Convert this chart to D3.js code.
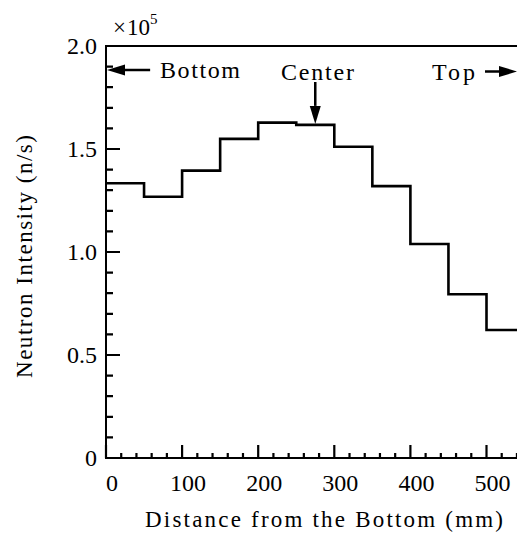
<!DOCTYPE html>
<html>
<head>
<meta charset="utf-8">
<script src="https://cdn.jsdelivr.net/npm/d3@7"></script>
</head>
<body style="margin:0;padding:0;background:#fff;overflow:hidden">
<svg id="chart" width="517" height="539" style="display:block"></svg>
<script>
// ---- data ----
const binStarts = [0, 50, 100, 150, 200, 250, 300, 350, 400, 450, 500];
const binWidth = 50;
const intensity = [1.334, 1.268, 1.395, 1.549, 1.628, 1.617, 1.511, 1.320, 1.039, 0.795, 0.621]; // x 10^5 n/s
const xTickValues = [0, 100, 200, 300, 400, 500];
const xTickLabels = ["0", "100", "200", "300", "400", "500"];
const yTickValues = [0, 0.5, 1.0, 1.5, 2.0];
const yTickLabels = ["0", "0.5", "1.0", "1.5", "2.0"];
const xMinorTicks = [20, 40, 60, 80, 120, 140, 160, 180, 220, 240, 260, 280, 320, 340, 360, 380, 420, 440, 460, 480, 520, 540];
const yMinorTicks = [0.1, 0.2, 0.3, 0.4, 0.6, 0.7, 0.8, 0.9, 1.1, 1.2, 1.3, 1.4, 1.6, 1.7, 1.8, 1.9];
const xTitle = "Distance from the Bottom (mm)";
const yTitle = "Neutron Intensity (n/s)";

const FONT = "'Liberation Serif', 'Times New Roman', serif";

// ---- layout ----
const svg = d3.select("#chart");
const mLeft = 106, mTop = 46, mBottom = 458;
const xMax = 550;
const x = d3.scaleLinear().domain([0, xMax]).range([mLeft, mLeft + 0.761 * xMax]);
const y = d3.scaleLinear().domain([0, 2.0]).range([mBottom, mTop]);

function txt(g) {
  return g.append("text").style("font-family", FONT).attr("fill", "#000");
}

// ---- ticks (inward), drawn as one path ----
let tickD = "";
yMinorTicks.forEach(v => { tickD += `M${x(0)},${y(v)}H${x(0) + 7}`; });
yTickValues.forEach(v => { tickD += `M${x(0)},${y(v)}H${x(0) + 14}`; });
xMinorTicks.forEach(v => { tickD += `M${x(v)},${y(0)}V${y(0) - 5}`; });
xTickValues.forEach(v => { tickD += `M${x(v)},${y(0)}V${y(0) - 13}`; });
svg.append("path").attr("d", tickD).attr("fill", "none")
  .attr("stroke", "#000").attr("stroke-width", 2.2);

// tick labels
svg.append("g").selectAll("text").data(yTickValues).join("text")
  .style("font-family", FONT).style("font-size", "24px").attr("fill", "#000")
  .attr("text-anchor", "end").attr("x", x(0) - 9).attr("y", d => y(d) + 8)
  .text((d, i) => yTickLabels[i]);
svg.append("g").selectAll("text").data(xTickValues).join("text")
  .style("font-family", FONT).style("font-size", "24px").attr("fill", "#000")
  .attr("text-anchor", "middle").attr("x", d => x(d) + 6).attr("y", y(0) + 33)
  .text((d, i) => xTickLabels[i]);

// frame lines (left, bottom, top)
const frame = svg.append("g").attr("stroke", "#000").attr("stroke-width", 2).attr("fill", "none");
frame.append("line").attr("x1", x(0)).attr("x2", x(0)).attr("y1", y(2.0) - 1).attr("y2", y(0) + 1);
frame.append("line").attr("x1", x(0) - 1).attr("x2", x(xMax)).attr("y1", y(0)).attr("y2", y(0));
frame.append("line").attr("x1", x(0) - 1).attr("x2", x(xMax)).attr("y1", y(2.0)).attr("y2", y(2.0));

// ---- step line ----
const stepPts = [];
binStarts.forEach((s, i) => {
  stepPts.push([s, intensity[i]]);
  stepPts.push([s + binWidth, intensity[i]]);
});
const line = d3.line().x(d => x(d[0])).y(d => y(d[1]));
svg.append("path").datum(stepPts).attr("d", line)
  .attr("fill", "none").attr("stroke", "#000").attr("stroke-width", 2.6)
  .attr("stroke-linejoin", "miter");

// ---- annotations ----
function arrow(x1, y1, x2, y2) {
  const ang = Math.atan2(y2 - y1, x2 - x1);
  const L = 18, W = 5.5;
  const bx = x2 - L * Math.cos(ang), by = y2 - L * Math.sin(ang);
  svg.append("line").attr("x1", x1).attr("y1", y1).attr("x2", bx).attr("y2", by)
    .attr("stroke", "#000").attr("stroke-width", 2.5);
  const px = -Math.sin(ang) * W, py = Math.cos(ang) * W;
  svg.append("path")
    .attr("d", `M${x2},${y2}L${bx + px},${by + py}L${bx - px},${by - py}Z`)
    .attr("fill", "#000");
}
arrow(x(58), 70, x(0) + 1, 70);
txt(svg).attr("x", 160).attr("y", 78).style("font-size", "24px")
  .attr("textLength", 80).attr("lengthAdjust", "spacing").text("Bottom");

txt(svg).attr("x", 281).attr("y", 80).style("font-size", "24px")
  .attr("textLength", 73).attr("lengthAdjust", "spacing").text("Center");
arrow(x(275), 82, x(275), y(1.617) - 1);

txt(svg).attr("x", 432).attr("y", 80).style("font-size", "24px")
  .attr("textLength", 43).attr("lengthAdjust", "spacing").text("Top");
arrow(485, 71.5, 517, 71.5);

// multiplier
const mult = txt(svg).attr("x", 113).attr("y", 35).style("font-size", "23px");
mult.append("tspan").text("\u00D7");
mult.append("tspan").attr("dx", 1).text("10");
mult.append("tspan").attr("dy", -11).style("font-size", "15px").text("5");

// axis titles
txt(svg).attr("x", 145).attr("y", 527).style("font-size", "23px")
  .attr("textLength", 358).attr("lengthAdjust", "spacing").text(xTitle);
txt(svg).attr("transform", "translate(32,378) rotate(-90)")
  .style("font-size", "23px")
  .attr("textLength", 243).attr("lengthAdjust", "spacing").text(yTitle);
</script>
</body>
</html>
